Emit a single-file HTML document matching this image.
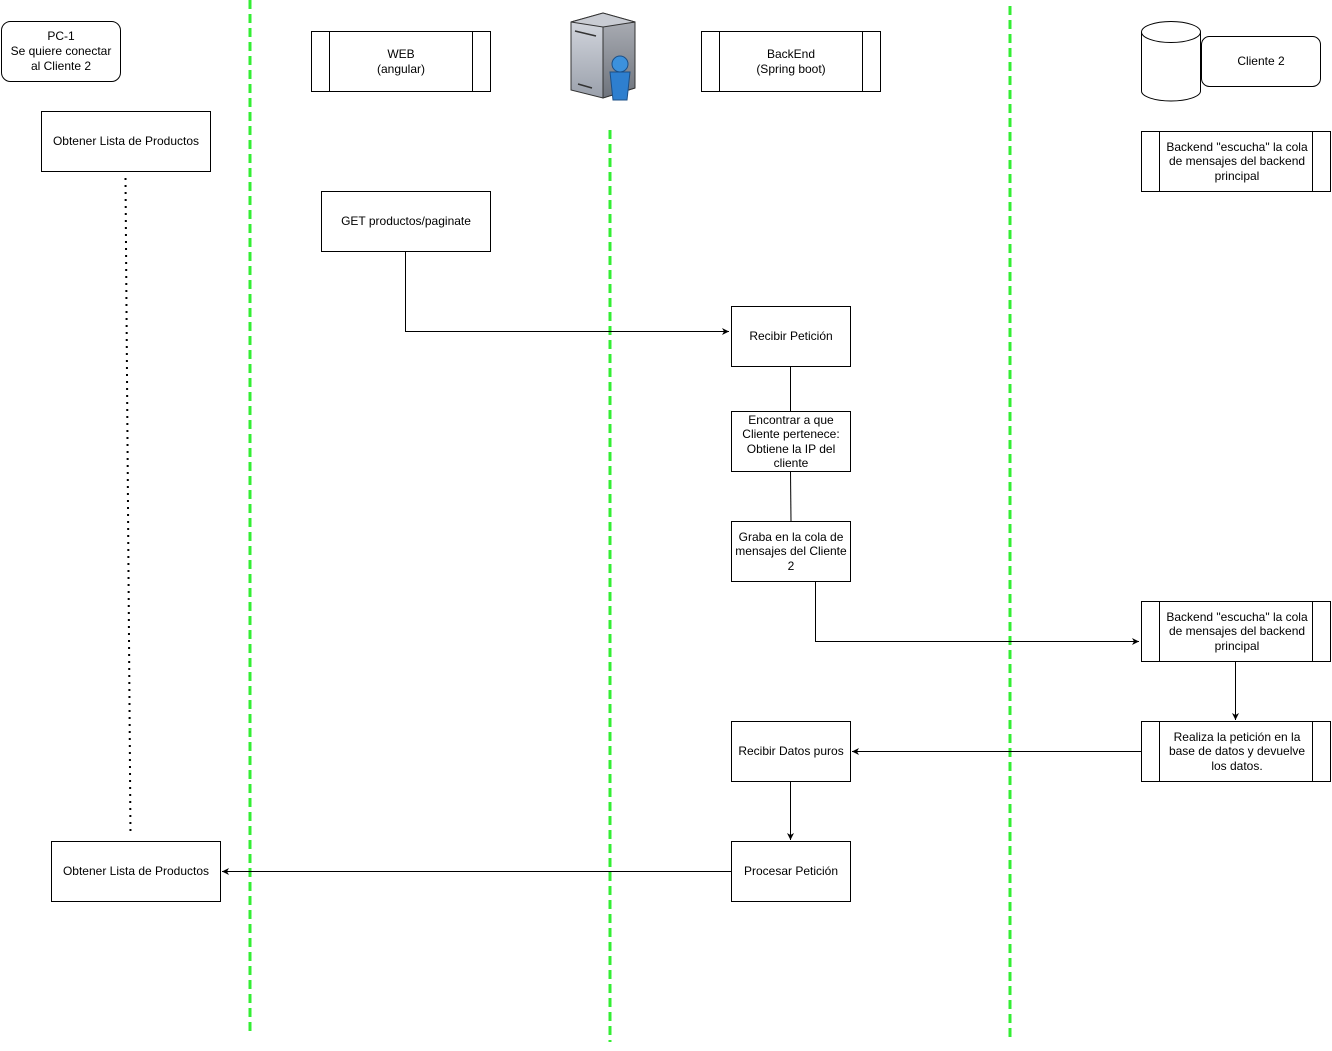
<!DOCTYPE html>
<html><head><meta charset="utf-8"><style>
html,body{margin:0;padding:0;background:#fff;}
svg text{font-family:"Liberation Sans",Helvetica,sans-serif;font-size:12px;fill:#000;text-anchor:middle;}
</style></head><body>
<svg width="1332" height="1046" viewBox="0 0 1332 1046" xmlns="http://www.w3.org/2000/svg">
<defs>
<marker id="a" markerWidth="8" markerHeight="8" refX="7" refY="4" orient="auto" markerUnits="userSpaceOnUse">
<path d="M0,0.5 L7,4 L0,7.5 L2,4 Z" fill="#000"/></marker>
<linearGradient id="g1" x1="0" x2="0" y1="0" y2="1"><stop offset="0" stop-color="#d8dbe2"/><stop offset="1" stop-color="#9aa0ab"/></linearGradient>
<linearGradient id="g2" x1="0" x2="0" y1="0" y2="1"><stop offset="0" stop-color="#a8abb2"/><stop offset="1" stop-color="#6e737c"/></linearGradient>
</defs>
<g stroke="#33ee33" stroke-width="3" stroke-dasharray="9,5" fill="none">
<line x1="250" y1="0" x2="250" y2="1032"/>
<line x1="610" y1="130" x2="610" y2="1042"/>
<line x1="1010" y1="6" x2="1010" y2="1042"/>
</g>
<g fill="#fff" stroke="#000" stroke-width="1">
<rect x="1.5" y="21.5" width="119" height="60" rx="9"/>
<rect x="311.5" y="31.5" width="179" height="60"/>
<line x1="329.5" y1="31.5" x2="329.5" y2="91.5"/><line x1="472.5" y1="31.5" x2="472.5" y2="91.5"/>
<rect x="701.5" y="31.5" width="179" height="60"/>
<line x1="719.5" y1="31.5" x2="719.5" y2="91.5"/><line x1="862.5" y1="31.5" x2="862.5" y2="91.5"/>
<path d="M1141.5,32 L1141.5,91 A29.5,10 0 0 0 1200.5,91 L1200.5,32"/>
<ellipse cx="1171" cy="32" rx="29.5" ry="10.5"/>
<rect x="1201.5" y="36.5" width="119" height="50" rx="8"/>
<rect x="1141.5" y="131.5" width="189" height="60"/>
<line x1="1159.5" y1="131.5" x2="1159.5" y2="191.5"/><line x1="1312.5" y1="131.5" x2="1312.5" y2="191.5"/>
<rect x="41.5" y="111.5" width="169" height="60"/>
<rect x="321.5" y="191.5" width="169" height="60"/>
<rect x="731.5" y="306.5" width="119" height="60"/>
<rect x="731.5" y="411.5" width="119" height="60"/>
<rect x="731.5" y="521.5" width="119" height="60"/>
<rect x="1141.5" y="601.5" width="189" height="60"/>
<line x1="1159.5" y1="601.5" x2="1159.5" y2="661.5"/><line x1="1312.5" y1="601.5" x2="1312.5" y2="661.5"/>
<rect x="1141.5" y="721.5" width="189" height="60"/>
<line x1="1159.5" y1="721.5" x2="1159.5" y2="781.5"/><line x1="1312.5" y1="721.5" x2="1312.5" y2="781.5"/>
<rect x="731.5" y="721.5" width="119" height="60"/>
<rect x="731.5" y="841.5" width="119" height="60"/>
<rect x="51.5" y="841.5" width="169" height="60"/>
</g>
<g stroke="#000" stroke-width="1" fill="none">
<line x1="125.5" y1="178" x2="130.5" y2="836" stroke-width="2" stroke-dasharray="2,5"/>
<path d="M405.5,251.5 V331.5 H729" marker-end="url(#a)"/>
<line x1="790.5" y1="366.5" x2="790.5" y2="411.5"/>
<line x1="790.5" y1="471.5" x2="791" y2="521.5"/>
<path d="M815.5,581.5 V641.5 H1139" marker-end="url(#a)"/>
<line x1="1235.5" y1="661.5" x2="1235.5" y2="720" marker-end="url(#a)"/>
<line x1="1141" y1="751.5" x2="852" y2="751.5" marker-end="url(#a)"/>
<line x1="790.5" y1="781.5" x2="790.5" y2="840" marker-end="url(#a)"/>
<line x1="731" y1="871.5" x2="222" y2="871.5" marker-end="url(#a)"/>
</g>
<!-- server icon -->
<g stroke="#333" stroke-width="1">
<path d="M571,22 L603,13 L635,22 L635,88 L603,98 L571,90 Z" fill="url(#g1)"/>
<path d="M603,26 L635,22 L635,88 L603,98 Z" fill="url(#g2)"/>
<path d="M571,22 L603,13 L635,22 L603,27 Z" fill="#c9ccd3"/>
<line x1="575" y1="31" x2="596" y2="36" stroke-width="1.5"/>
<line x1="578" y1="84" x2="592" y2="88" stroke-width="1.5"/>
</g>
<path d="M610,72 L630,72 L627,100 L613,100 Z" fill="#2e7fcf" stroke="#1c4f86"/>
<circle cx="620" cy="64" r="8" fill="#3c91dc" stroke="#1c4f86"/>
<text x="61" y="40">PC-1</text>
<text x="61" y="55">Se quiere conectar</text>
<text x="61" y="70">al Cliente 2</text>
<text x="401" y="58">WEB</text>
<text x="401" y="73">(angular)</text>
<text x="791" y="58">BackEnd</text>
<text x="791" y="73">(Spring boot)</text>
<text x="1261" y="65">Cliente 2</text>
<text x="1237" y="151">Backend "escucha" la cola</text>
<text x="1237" y="165">de mensajes del backend</text>
<text x="1237" y="180">principal</text>
<text x="126" y="145">Obtener Lista de Productos</text>
<text x="406" y="225">GET productos/paginate</text>
<text x="791" y="340">Recibir Petición</text>
<text x="791" y="424">Encontrar a que</text>
<text x="791" y="438">Cliente pertenece:</text>
<text x="791" y="453">Obtiene la IP del</text>
<text x="791" y="467">cliente</text>
<text x="791" y="541">Graba en la cola de</text>
<text x="791" y="555">mensajes del Cliente</text>
<text x="791" y="570">2</text>
<text x="1237" y="621">Backend "escucha" la cola</text>
<text x="1237" y="635">de mensajes del backend</text>
<text x="1237" y="650">principal</text>
<text x="1237" y="741">Realiza la petición en la</text>
<text x="1237" y="755">base de datos y devuelve</text>
<text x="1237" y="770">los datos.</text>
<text x="791" y="755">Recibir Datos puros</text>
<text x="791" y="875">Procesar Petición</text>
<text x="136" y="875">Obtener Lista de Productos</text>
</svg>
</body></html>
